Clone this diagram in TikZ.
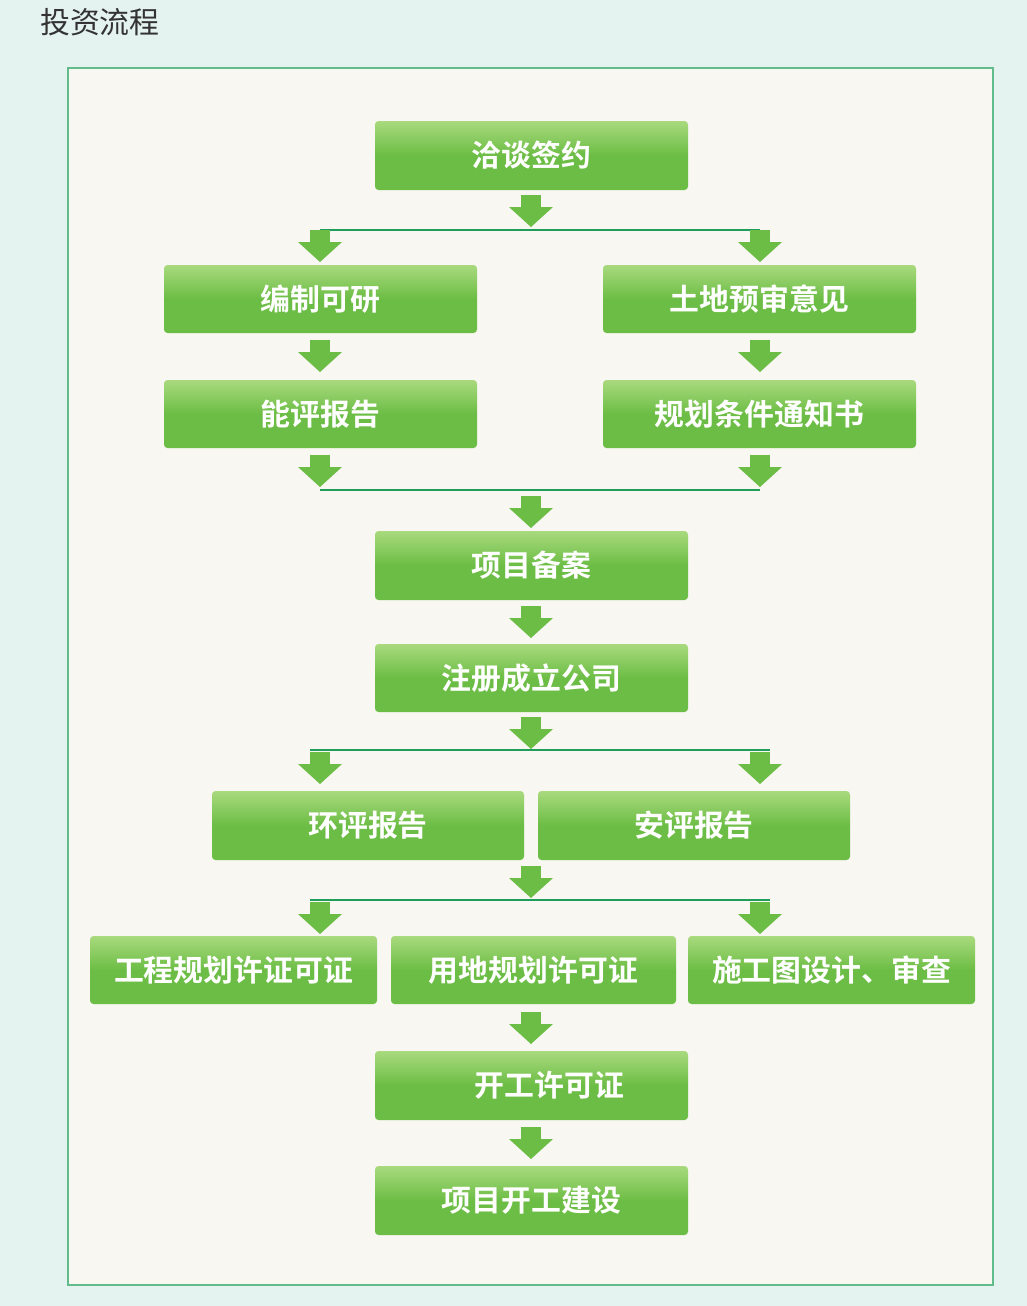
\documentclass[tikz,border=0pt]{standalone}
\usepackage{fontspec}
\newfontfamily\cjk{Noto Sans CJK SC}
\newfontfamily\cjkb{Noto Sans CJK SC Bold}
\usetikzlibrary{positioning}
\definecolor{boxgreen}{HTML}{6CBD45}
\definecolor{boxlight}{HTML}{A9DA7E}
\definecolor{linegreen}{HTML}{1E9E5A}
\definecolor{arrowgreen}{HTML}{6CBD45}
\definecolor{paper}{HTML}{F8F7F2}
\definecolor{bgteal}{HTML}{E4F3EF}

\tikzset{
  stepbox/.style={rounded corners=2pt,top color=boxlight,bottom color=boxgreen,
    middle color=boxgreen,shading angle=0,text=white,
    font=\cjkb\fontsize{17}{20}\selectfont,inner sep=0pt},
  dnarrow/.pic={
    \fill[arrowgreen] (-10,0) rectangle (10,14);
    \fill[arrowgreen] (-22,12) -- (22,12) -- (0,32) -- cycle;
  },
  joinline/.style={linegreen,line width=1.6pt}
}
\newcommand{\stepnode}[6]{% name, x1,y1,x2,y2,text
  \path[stepbox] (#2,#3) rectangle (#4,#5);
  \node[text=white,font=\cjkb\fontsize{17}{20}\selectfont] (#1) at ({(#2+#4)/2},{(#3+#5)/2}) {#6};
}

\begin{document}
\begin{tikzpicture}[x=0.02cm,y=-0.02cm]
  \fill[bgteal] (0,0) rectangle (1027,1306);
  \useasboundingbox (0,0) rectangle (1027,1306);
  \node[anchor=west,font=\cjk\fontsize{17}{20}\selectfont,text=black!80] (title) at (34,22) {投资流程};
  \draw[linegreen!70,fill=paper,line width=0.8pt] (68,68) rectangle (993,1285);

  % boxes
  \stepnode{sign}{375}{121}{688}{190}{洽谈签约}
  \stepnode{study}{164}{265}{477}{333}{编制可研}
  \stepnode{land}{603}{265}{916}{333}{土地预审意见}
  \stepnode{energy}{164}{380}{477}{448}{能评报告}
  \stepnode{plan}{603}{380}{916}{448}{规划条件通知书}
  \stepnode{record}{375}{531}{688}{600}{项目备案}
  \stepnode{company}{375}{644}{688}{712}{注册成立公司}
  \stepnode{env}{212}{791}{524}{860}{环评报告}
  \stepnode{safe}{538}{791}{850}{860}{安评报告}
  \stepnode{eng}{90}{936}{377}{1004}{工程规划许证可证}
  \stepnode{use}{391}{936}{676}{1004}{用地规划许可证}
  \stepnode{draw}{688}{936}{975}{1004}{施工图设计、审查}
  \stepnode{permit}{375}{1051}{688}{1120}{\hspace{1.2em}开工许可证}
  \stepnode{build}{375}{1166}{688}{1235}{项目开工建设}

  % join lines
  \coordinate (splitA) at (320,230); \coordinate (splitB) at (760,230);
  \coordinate (mergeA) at (320,490); \coordinate (mergeB) at (760,490);
  \coordinate (splitC) at (310,750); \coordinate (splitD) at (770,750);
  \coordinate (splitE) at (310,900); \coordinate (splitF) at (770,900);
  \draw[joinline] (splitA) -- (splitB);
  \draw[joinline] (mergeA) -- (mergeB);
  \draw[joinline] (splitC) -- (splitD);
  \draw[joinline] (splitE) -- (splitF);

  % arrows
  \foreach \ax/\ay in {531/195, 320/230, 760/230, 320/340, 760/340,
                       320/455, 760/455, 531/496, 531/606, 531/717,
                       320/752, 760/752, 531/866, 320/902, 760/902,
                       531/1012, 531/1127}
    \pic at (\ax,\ay) {dnarrow};
\end{tikzpicture}
\end{document}
